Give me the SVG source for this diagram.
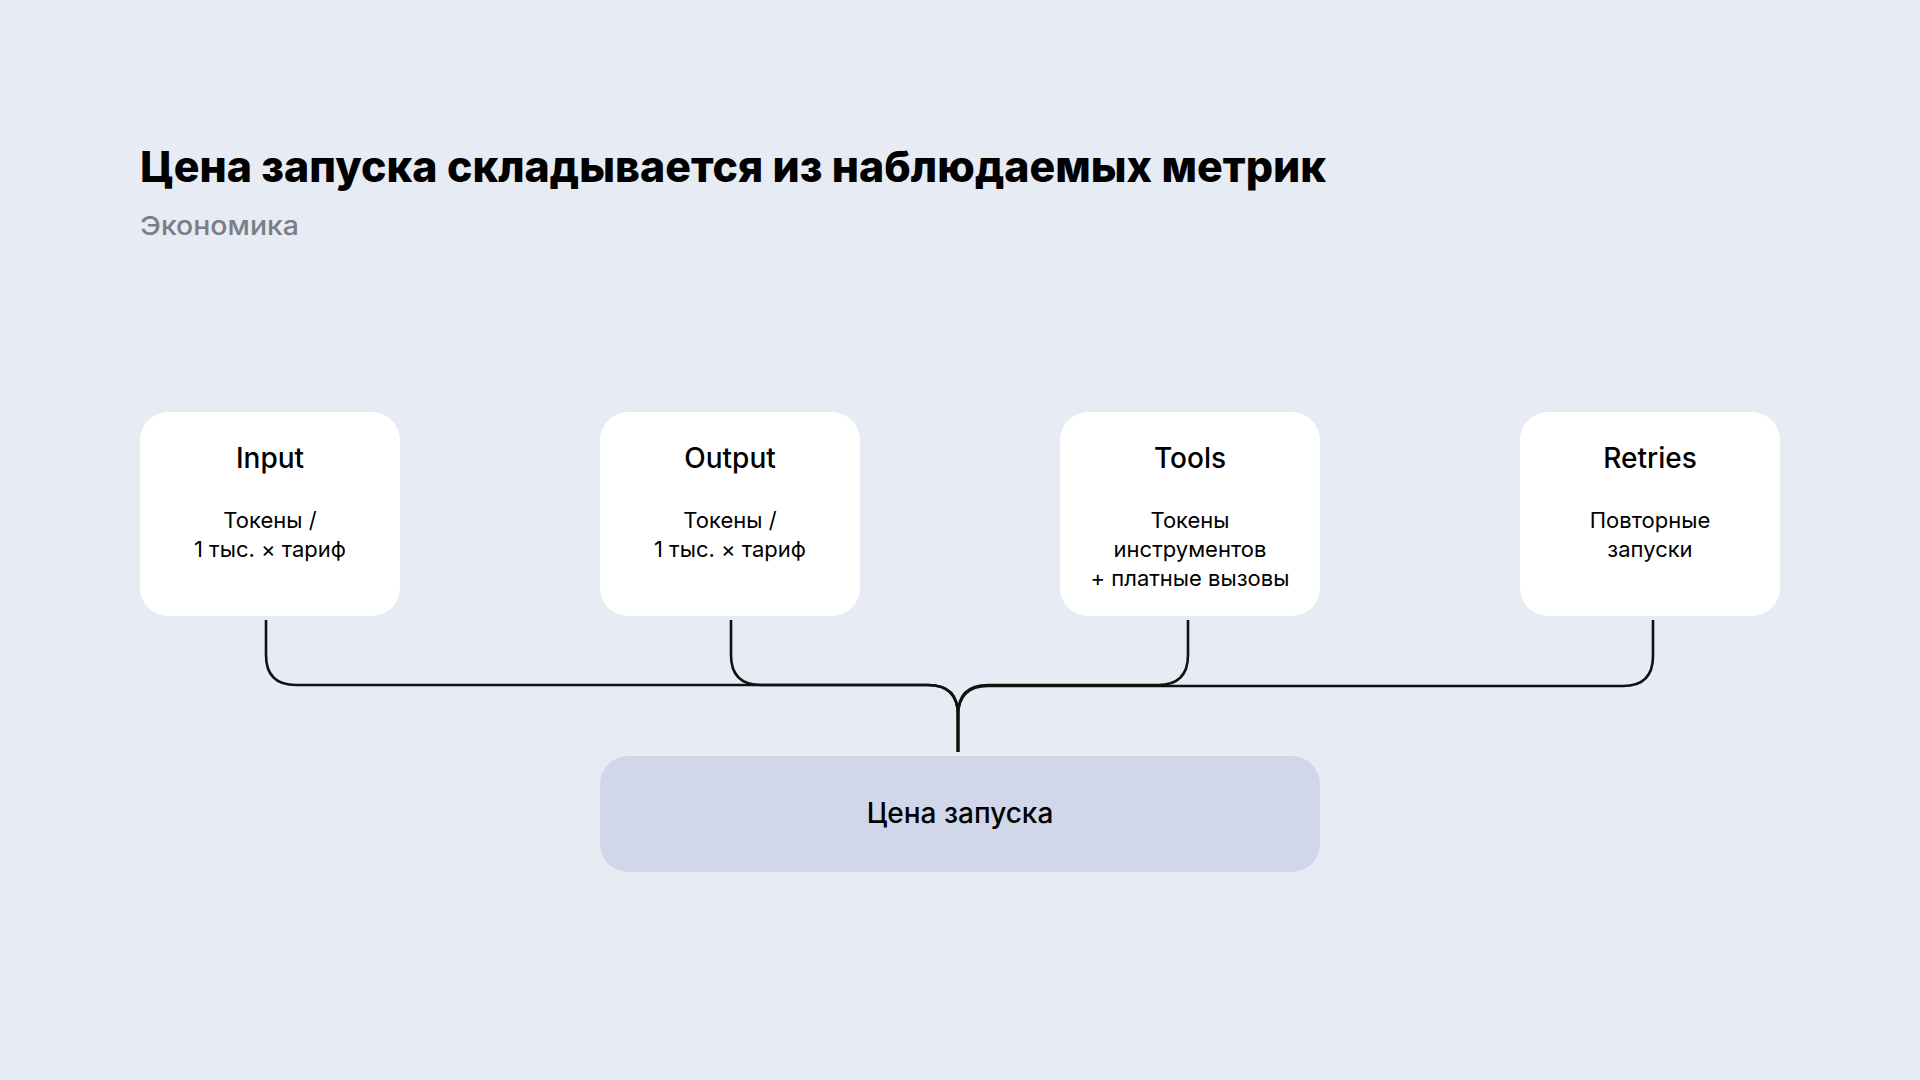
<svg xmlns="http://www.w3.org/2000/svg" width="1920" height="1080" viewBox="0 0 1920 1080">
<style>
text{font-family:Inter,"Noto Sans","Liberation Sans",sans-serif;}
.title{font-size:43px;font-weight:800;fill:#000;}
.sub{font-size:26px;font-weight:500;fill:#7b7e86;}
.card{fill:#ffffff;}
.h{font-size:28px;font-weight:500;fill:#000;text-anchor:middle;}
.b{font-size:22px;font-weight:400;fill:#000;text-anchor:middle;}
.total{fill:#d1d7e8;}
.conn path{fill:none;stroke:#111;stroke-width:2.6;stroke-linecap:butt;}
</style>
<rect x="0" y="0" width="1920" height="1080" fill="#e7ebf4"/>
<text class="title" x="140" y="182" textLength="1186" lengthAdjust="spacingAndGlyphs">Цена запуска складывается из наблюдаемых метрик</text>
<text class="sub" x="140" y="235" textLength="159" lengthAdjust="spacingAndGlyphs">Экономика</text>
<g class="conn" id="connectors">
<path d="M266 620 V655 Q266 685 296 685 H928 Q958 685 958 715 V752"/>
<path d="M731 620 V655 Q731 685 761 685 H928 Q958 685 958 715 V752"/>
<path d="M1188 620 V655 Q1188 685 1158 685 H988 Q958 685 958 715 V752"/>
<path d="M1653 620 V656 Q1653 686 1623 686 H988 Q958 686 958 716 V752"/>
</g>
<g id="node-input">
<rect class="card" x="140" y="412" width="260" height="204" rx="28"/>
<text class="h" x="270" y="468">Input</text>
<text class="b" x="270" y="528">Токены /</text>
<text class="b" x="270" y="557">1 тыс. × тариф</text>
</g>
<g id="node-output">
<rect class="card" x="600" y="412" width="260" height="204" rx="28"/>
<text class="h" x="730" y="468">Output</text>
<text class="b" x="730" y="528">Токены /</text>
<text class="b" x="730" y="557">1 тыс. × тариф</text>
</g>
<g id="node-tools">
<rect class="card" x="1060" y="412" width="260" height="204" rx="28"/>
<text class="h" x="1190" y="468">Tools</text>
<text class="b" x="1190" y="528">Токены</text>
<text class="b" x="1190" y="557">инструментов</text>
<text class="b" x="1190" y="586">+ платные вызовы</text>
</g>
<g id="node-retries">
<rect class="card" x="1520" y="412" width="260" height="204" rx="28"/>
<text class="h" x="1650" y="468">Retries</text>
<text class="b" x="1650" y="528">Повторные</text>
<text class="b" x="1650" y="557">запуски</text>
</g>
<g id="node-total">
<rect class="total" x="600" y="756" width="720" height="116" rx="28"/>
<text class="h" x="960" y="823">Цена запуска</text>
</g>
</svg>
